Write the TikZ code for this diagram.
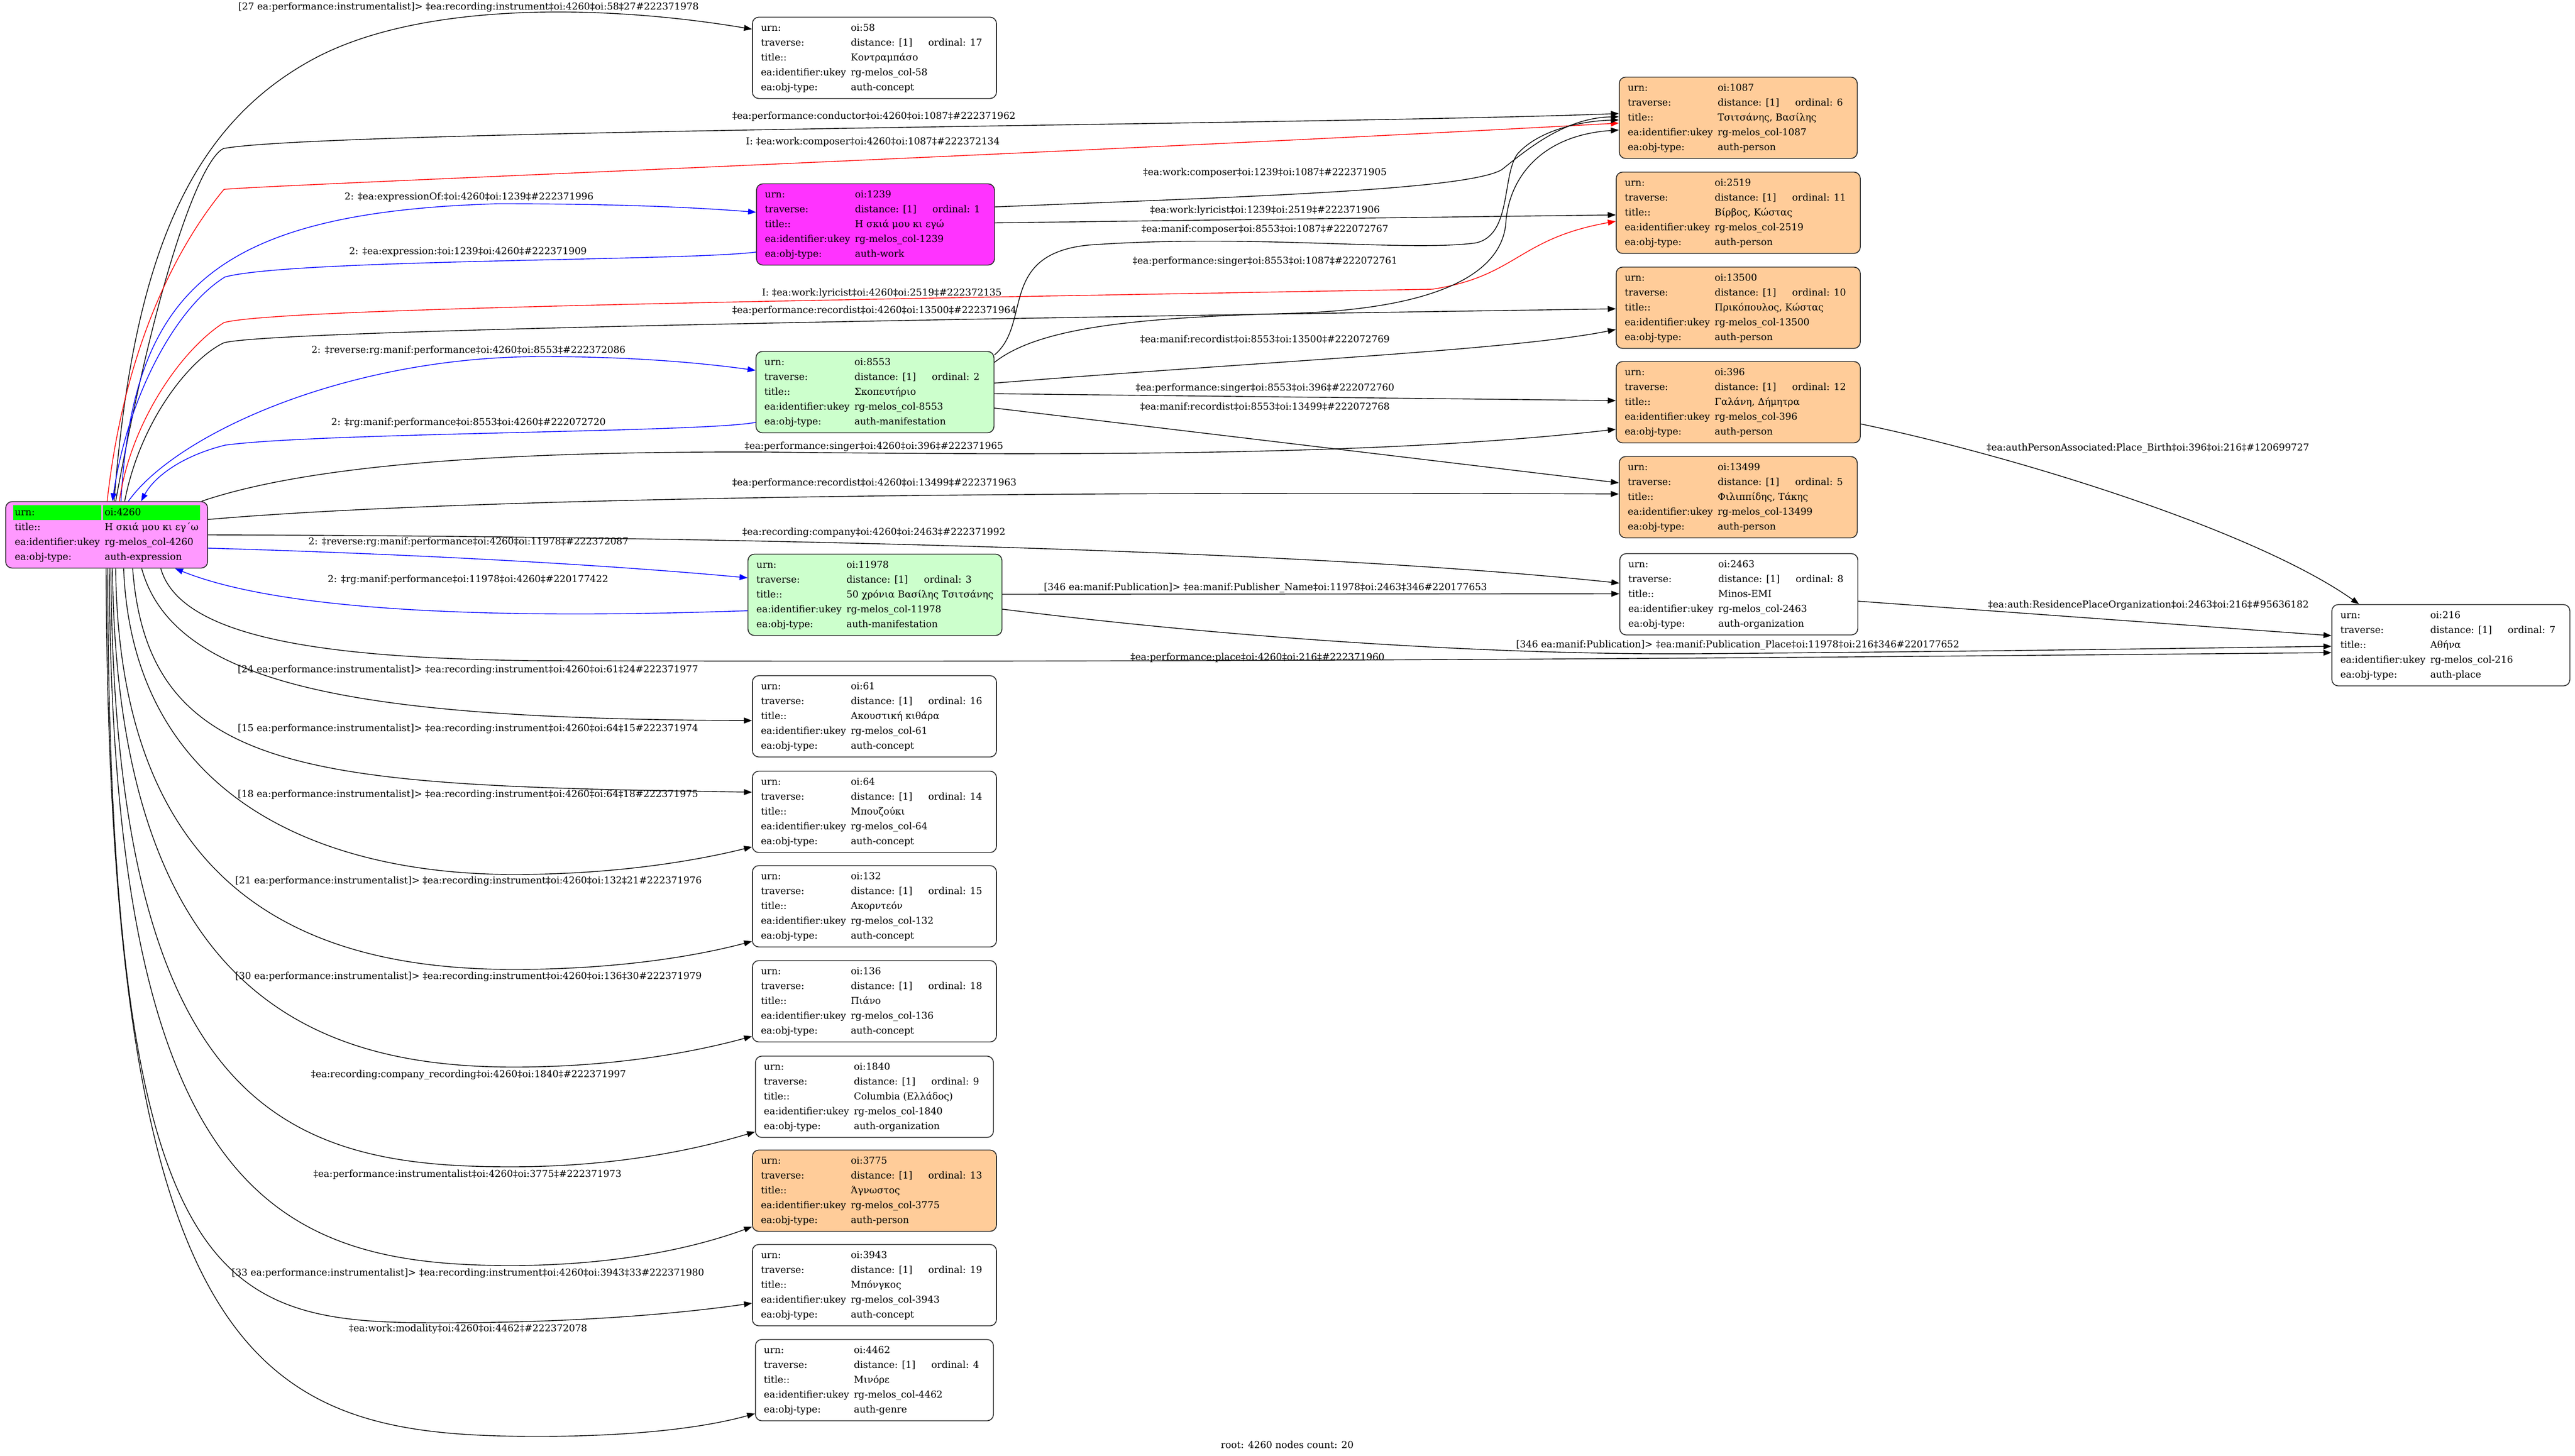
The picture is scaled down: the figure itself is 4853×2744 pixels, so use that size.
\documentclass[tikz,border=0pt]{standalone}
\usepackage{fontspec}
\setmainfont{DejaVu Serif}
\usepackage{colortbl}
\usetikzlibrary{arrows.meta,calc}

\definecolor{exprpink}{RGB}{255,153,255}
\definecolor{workpink}{RGB}{255,51,255}
\definecolor{manifgreen}{RGB}{204,255,204}
\definecolor{personorange}{RGB}{255,204,153}
\definecolor{hlgreen}{RGB}{0,255,0}

% one record: urn number, ordinal, title, object type
\newcommand{\rectab}[4]{%
\begin{tabular}{@{}l@{\hspace{4.5pt}}l@{\hspace{15pt}}l@{\hspace{5.5pt}}}
urn: & oi:#1 & \\
traverse: & distance: [1] & ordinal: #2\\
title:: & \multicolumn{2}{@{}l@{}}{#3}\\
ea:identifier:ukey & \multicolumn{2}{@{}l@{}}{rg-melos\_col-#1}\\
ea:obj-type: & \multicolumn{2}{@{}l@{}}{#4}
\end{tabular}}

\tikzset{
  rec/.style={draw=black!85, line width=0.8pt, rounded corners=6pt,
    inner xsep=8pt, inner ysep=3.3pt, font=\fontsize{9}{14}\selectfont},
  lbl/.style={font=\fontsize{9}{11}\selectfont, inner sep=0pt},
  rel/.style={-{Triangle[length=7.5pt,width=5.5pt]}, line width=0.7pt}
}

\begin{document}
\begin{tikzpicture}[x=0.5pt,y=-0.5pt]
\useasboundingbox (0,0) rectangle (4853,2744);

% records
\node[rec,fill=exprpink,inner xsep=7pt] (n4260) at (201,1008) {\setlength\tabcolsep{1.5pt}%
\begin{tabular}{l!{\hspace{1.5pt}}l}
\cellcolor{hlgreen}urn: & \cellcolor{hlgreen}oi:4260\\
title:: & Η σκιά μου κι εγ΄ω\\
ea:identifier:ukey & rg-melos\_col-4260\\
ea:obj-type: & auth-expression
\end{tabular}};
\node[rec] (n58) at (1648,109) {\rectab{58}{17}{Κοντραμπάσο}{auth-concept}};
\node[rec,fill=workpink] (n1239) at (1650,423) {\rectab{1239}{1}{Η σκιά μου κι εγώ}{auth-work}};
\node[rec,fill=manifgreen] (n8553) at (1649,739) {\rectab{8553}{2}{Σκοπευτήριο}{auth-manifestation}};
\node[rec,fill=manifgreen] (n11978) at (1649,1121) {\rectab{11978}{3}{50 χρόνια Βασίλης Τσιτσάνης}{auth-manifestation}};
\node[rec] (n61) at (1648,1350) {\rectab{61}{16}{Ακουστική κιθάρα}{auth-concept}};
\node[rec] (n64) at (1648,1530) {\rectab{64}{14}{Μπουζούκι}{auth-concept}};
\node[rec] (n132) at (1648,1708) {\rectab{132}{15}{Ακορντεόν}{auth-concept}};
\node[rec] (n136) at (1648,1887) {\rectab{136}{18}{Πιάνο}{auth-concept}};
\node[rec] (n1840) at (1648,2067) {\rectab{1840}{9}{Columbia (Ελλάδος)}{auth-organization}};
\node[rec,fill=personorange] (n3775) at (1648,2244) {\rectab{3775}{13}{Άγνωστος}{auth-person}};
\node[rec] (n3943) at (1648,2422) {\rectab{3943}{19}{Μπόνγκος}{auth-concept}};
\node[rec] (n4462) at (1648,2601) {\rectab{4462}{4}{Μινόρε}{auth-genre}};
\node[rec,fill=personorange] (n1087) at (3276,222) {\rectab{1087}{6}{Τσιτσάνης, Βασίλης}{auth-person}};
\node[rec,fill=personorange] (n2519) at (3276,401) {\rectab{2519}{11}{Βίρβος, Κώστας}{auth-person}};
\node[rec,fill=personorange] (n13500) at (3276,580) {\rectab{13500}{10}{Πρικόπουλος, Κώστας}{auth-person}};
\node[rec,fill=personorange] (n396) at (3276,758) {\rectab{396}{12}{Γαλάνη, Δήμητρα}{auth-person}};
\node[rec,fill=personorange] (n13499) at (3276,937) {\rectab{13499}{5}{Φιλιππίδης, Τάκης}{auth-person}};
\node[rec] (n2463) at (3277,1120) {\rectab{2463}{8}{Minos-EMI}{auth-organization}};
\node[rec] (n216) at (4619,1216) {\rectab{216}{7}{Αθήνα}{auth-place}};

% relations leaving the root upwards
\draw[rel] ($(n4260.north)+(14,0)$) .. controls (250,500) and (350,240) .. (593,110) .. controls (800,0) and (1150,10) .. ($(n58.west)+(0,-54)$);
\draw[rel] ($(n4260.north)+(17,0)$) .. controls (300,500) and (380,300) .. (421,280) .. controls (600,245) and (2500,235) .. ($(n1087.west)+(0,-8)$);
\draw[rel,red] ($(n4260.north)+(1,0)$) .. controls (240,600) and (370,420) .. (422,357) .. controls (470,350) and (2000,290) .. ($(n1087.west)+(0,10)$);
\draw[rel,blue] ($(n4260.north)+(27,0)$) .. controls (250,550) and (400,400) .. (938,384) .. controls (1150,384) and (1300,390) .. ($(n1239.west)+(0,-23)$);
\draw[rel,blue] ($(n1239.west)+(0,52)$) .. controls (1300,492) and (550,488) .. (424,522) .. controls (330,580) and (240,750) .. ($(n4260.north)+(11,0)$);
\draw[rel,red] ($(n4260.north)+(24,0)$) .. controls (245,800) and (340,660) .. (422,608) .. controls (520,580) and (1600,565) .. (2700,545) .. controls (2860,520) and (2860,450) .. ($(n2519.west)+(0,16)$);
\draw[rel] ($(n4260.north)+(34,0)$) .. controls (265,790) and (360,675) .. (422,646) .. controls (500,625) and (1500,605) .. ($(n13500.west)+(0,2)$);
\draw[rel,blue] ($(n4260.north)+(41,0)$) .. controls (330,820) and (650,672) .. (1021,672) .. controls (1200,672) and (1330,685) .. ($(n8553.west)+(0,-41)$);
\draw[rel,blue] ($(n8553.west)+(0,57)$) .. controls (1330,815) and (600,815) .. (424,839) .. controls (340,860) and (290,900) .. ($(n4260.north)+(65,0)$);
\draw[rel] ($(n4260.north)+(179,0)$) .. controls (600,870) and (1000,850) .. (1450,852) .. controls (2000,858) and (2600,860) .. ($(n396.west)+(0,51)$);

% relations leaving the root to the right
\draw[rel] ($(n4260.east)+(0,-29)$) .. controls (900,935) and (2000,926) .. ($(n13499.west)+(0,-6)$);
\draw[rel,blue] ($(n4260.east)+(0,25)$) .. controls (800,1045) and (1150,1065) .. ($(n11978.west)+(0,-32)$);
\draw[rel,blue] ($(n11978.west)+(0,30)$) .. controls (1000,1165) and (550,1160) .. ($(n4260.south)+(129,0)$);
\draw[rel] (n4260.east) .. controls (1200,1010) and (2400,1030) .. ($(n2463.west)+(0,-21)$);
\draw[rel] ($(n4260.south)+(102,0)$) .. controls (340,1200) and (600,1240) .. (1000,1245) .. controls (2500,1250) and (3800,1235) .. ($(n216.west)+(0,14)$);

% relations leaving the root downwards
\draw[rel] ($(n4260.south)+(66,0)$) .. controls (330,1300) and (700,1355) .. ($(n61.west)+(0,8)$);
\draw[rel] ($(n4260.south)+(49,0)$) .. controls (280,1470) and (600,1480) .. ($(n64.west)+(0,-37)$);
\draw[rel] ($(n4260.south)+(32,0)$) .. controls (250,1500) and (600,1648) .. (968,1648) .. controls (1150,1648) and (1300,1625) .. ($(n64.west)+(0,66)$);
\draw[rel] ($(n4260.south)+(17,0)$) .. controls (225,1700) and (600,1827) .. (968,1827) .. controls (1150,1827) and (1300,1805) .. ($(n132.west)+(0,66)$);
\draw[rel] ($(n4260.south)+(11,0)$) .. controls (220,1880) and (600,2011) .. (968,2011) .. controls (1150,2011) and (1300,1985) .. ($(n136.west)+(0,66)$);
\draw[rel] ($(n4260.south)+(8,0)$) .. controls (215,2100) and (550,2199) .. (962,2199) .. controls (1150,2199) and (1300,2170) .. ($(n1840.west)+(0,66)$);
\draw[rel] ($(n4260.south)+(5,0)$) .. controls (210,2250) and (520,2385) .. (962,2385) .. controls (1150,2385) and (1300,2355) .. ($(n3775.west)+(0,68)$);
\draw[rel] ($(n4260.south)+(2,0)$) .. controls (205,2450) and (420,2493) .. (830,2493) .. controls (1050,2493) and (1250,2480) .. ($(n3943.west)+(0,34)$);
\draw[rel] ($(n4260.south)+(-1,0)$) .. controls (205,2600) and (500,2707) .. (1013,2707) .. controls (1200,2707) and (1330,2690) .. ($(n4462.west)+(0,63)$);

% relations between the other records
\draw[rel] ($(n1239.east)+(0,-33)$) .. controls (2300,372) and (2760,360) .. (2830,320) .. controls (2880,280) and (2950,222) .. ($(n1087.west)+(0,-2)$);
\draw[rel] ($(n1239.east)+(0,-3)$) -- ($(n2519.west)+(0,4)$);
\draw[rel] ($(n8553.east)+(0,-70)$) .. controls (1945,610) and (1880,480) .. (2050,462) .. controls (2350,440) and (2650,475) .. (2780,458) .. controls (2850,445) and (2830,330) .. (2860,290) .. controls (2900,245) and (2980,228) .. ($(n1087.west)+(0,4)$);
\draw[rel] ($(n8553.east)+(0,-56)$) .. controls (1960,615) and (2150,598) .. (2450,590) .. controls (2700,580) and (2830,520) .. (2838,420) .. controls (2843,340) and (2900,255) .. ($(n1087.west)+(0,23)$);
\draw[rel] ($(n8553.east)+(0,-17)$) .. controls (2400,680) and (2850,660) .. ($(n13500.west)+(0,41)$);
\draw[rel] ($(n8553.east)+(0,3)$) -- ($(n396.west)+(0,-3)$);
\draw[rel] ($(n8553.east)+(0,30)$) -- ($(n13499.west)+(0,-27)$);
\draw[rel] ($(n11978.east)+(0,-1)$) -- ($(n2463.west)+(0,-1)$);
\draw[rel] ($(n11978.east)+(0,27)$) .. controls (2300,1200) and (2800,1235) .. (3200,1232) .. controls (3700,1228) and (4100,1222) .. ($(n216.west)+(0,2)$);
\draw[rel] ($(n2463.east)+(0,13)$) -- ($(n216.west)+(0,-18)$);
\draw[rel] ($(n396.east)+(0,41)$) .. controls (3800,860) and (4250,1000) .. ($(n216.north)+(-173,0)$);

% relation labels
\node[lbl] (l58) at (883,14) {[27 ea:performance:instrumentalist]> ‡ea:recording:instrument‡oi:4260‡oi:58‡27\#222371978};
\node[lbl] (lcond) at (1647,220) {‡ea:performance:conductor‡oi:4260‡oi:1087‡\#222371962};
\node[lbl] (lcomp) at (1645,268) {I: ‡ea:work:composer‡oi:4260‡oi:1087‡\#222372134};
\node[lbl] (lexpof) at (884,372) {2: ‡ea:expressionOf:‡oi:4260‡oi:1239‡\#222371996};
\node[lbl] (lexp) at (882,475) {2: ‡ea:expression:‡oi:1239‡oi:4260‡\#222371909};
\node[lbl] (llyr) at (1662,553) {I: ‡ea:work:lyricist‡oi:4260‡oi:2519‡\#222372135};
\node[lbl] (lrec13500) at (1648,586) {‡ea:performance:recordist‡oi:4260‡oi:13500‡\#222371964};
\node[lbl] (lrev8553) at (883,661) {2: ‡reverse:rg:manif:performance‡oi:4260‡oi:8553‡\#222372086};
\node[lbl] (lperf8553) at (883,797) {2: ‡rg:manif:performance‡oi:8553‡oi:4260‡\#222072720};
\node[lbl] (lsing396) at (1647,842) {‡ea:performance:singer‡oi:4260‡oi:396‡\#222371965};
\node[lbl] (lrec13499) at (1648,911) {‡ea:performance:recordist‡oi:4260‡oi:13499‡\#222371963};
\node[lbl] (lcompany) at (1647,1004) {‡ea:recording:company‡oi:4260‡oi:2463‡\#222371992};
\node[lbl] (lrev11978) at (883,1022) {2: ‡reverse:rg:manif:performance‡oi:4260‡oi:11978‡\#222372087};
\node[lbl] (lperf11978) at (882,1093) {2: ‡rg:manif:performance‡oi:11978‡oi:4260‡\#220177422};
\node[lbl] (lplace) at (2370,1240) {‡ea:performance:place‡oi:4260‡oi:216‡\#222371960};
\node[lbl] (l61) at (882,1263) {[24 ea:performance:instrumentalist]> ‡ea:recording:instrument‡oi:4260‡oi:61‡24\#222371977};
\node[lbl] (l64a) at (882,1374) {[15 ea:performance:instrumentalist]> ‡ea:recording:instrument‡oi:4260‡oi:64‡15\#222371974};
\node[lbl] (l64b) at (882,1498) {[18 ea:performance:instrumentalist]> ‡ea:recording:instrument‡oi:4260‡oi:64‡18\#222371975};
\node[lbl] (l132) at (883,1661) {[21 ea:performance:instrumentalist]> ‡ea:recording:instrument‡oi:4260‡oi:132‡21\#222371976};
\node[lbl] (l136) at (883,1841) {[30 ea:performance:instrumentalist]> ‡ea:recording:instrument‡oi:4260‡oi:136‡30\#222371979};
\node[lbl] (l1840) at (883,2026) {‡ea:recording:company\_recording‡oi:4260‡oi:1840‡\#222371997};
\node[lbl] (l3775) at (881,2214) {‡ea:performance:instrumentalist‡oi:4260‡oi:3775‡\#222371973};
\node[lbl] (l3943) at (882,2400) {[33 ea:performance:instrumentalist]> ‡ea:recording:instrument‡oi:4260‡oi:3943‡33\#222371980};
\node[lbl] (l4462) at (882,2505) {‡ea:work:modality‡oi:4260‡oi:4462‡\#222372078};
\node[lbl] (lcomp1239) at (2384,326) {‡ea:work:composer‡oi:1239‡oi:1087‡\#222371905};
\node[lbl] (llyr1239) at (2384,397) {‡ea:work:lyricist‡oi:1239‡oi:2519‡\#222371906};
\node[lbl] (lmcomp) at (2384,433) {‡ea:manif:composer‡oi:8553‡oi:1087‡\#222072767};
\node[lbl] (lsing1087) at (2384,493) {‡ea:performance:singer‡oi:8553‡oi:1087‡\#222072761};
\node[lbl] (lmrec13500) at (2384,640) {‡ea:manif:recordist‡oi:8553‡oi:13500‡\#222072769};
\node[lbl] (lsing8553) at (2384,732) {‡ea:performance:singer‡oi:8553‡oi:396‡\#222072760};
\node[lbl] (lmrec13499) at (2384,767) {‡ea:manif:recordist‡oi:8553‡oi:13499‡\#222072768};
\node[lbl] (lpub) at (2385,1108) {[346 ea:manif:Publication]> ‡ea:manif:Publisher\_Name‡oi:11978‡oi:2463‡346\#220177653};
\node[lbl] (lpubplace) at (3275,1216) {[346 ea:manif:Publication]> ‡ea:manif:Publication\_Place‡oi:11978‡oi:216‡346\#220177652};
\node[lbl] (lres) at (4049,1141) {‡ea:auth:ResidencePlaceOrganization‡oi:2463‡oi:216‡\#95636182};
\node[lbl] (lbirth) at (4048,845) {‡ea:authPersonAssociated:Place\_Birth‡oi:396‡oi:216‡\#120699727};

\node[lbl] (caption) at (2426,2723) {root: 4260 nodes count: 20};
\end{tikzpicture}
\end{document}
